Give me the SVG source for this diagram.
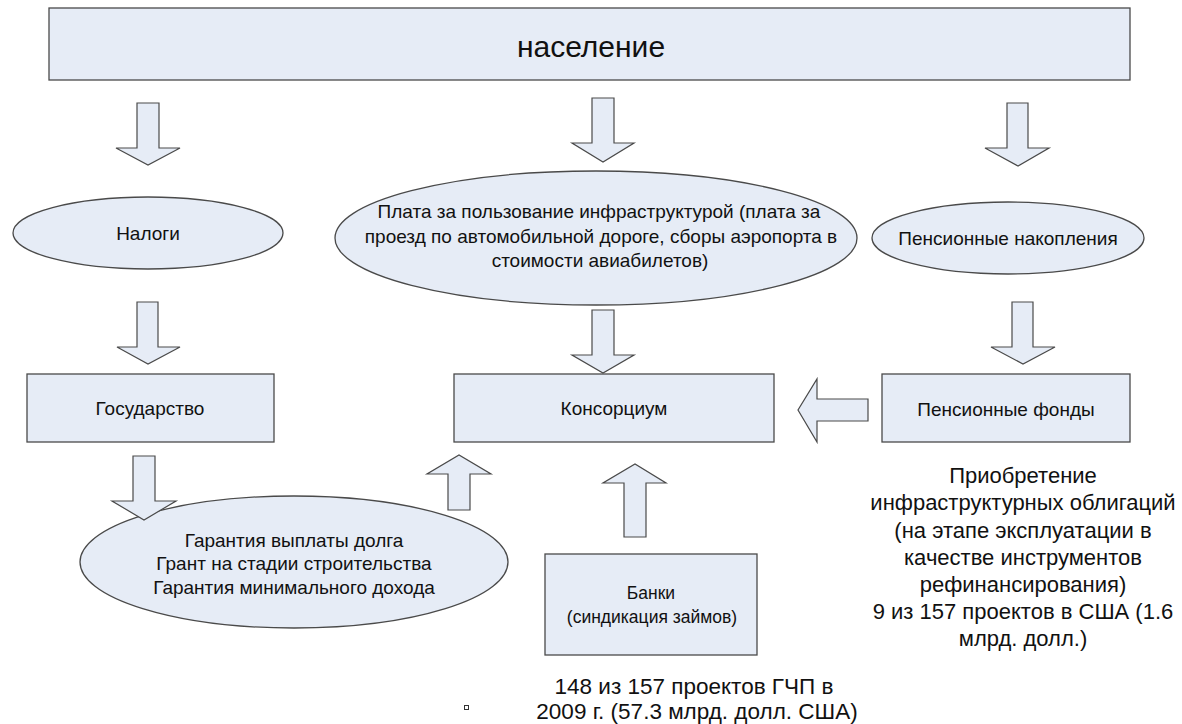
<svg xmlns="http://www.w3.org/2000/svg" width="1182" height="724" viewBox="0 0 1182 724">
<style>
.n{fill:#e6ecf6;stroke:#4a4a4a;stroke-width:1.3}
.a{fill:#e6ecf6;stroke:#4a4a4a;stroke-width:1.2;stroke-linejoin:miter}
text{font-family:"Liberation Sans",Arial,sans-serif;fill:#111;text-anchor:middle;dominant-baseline:central}
.s{font-size:19px}
.k{font-size:17.5px}
.m{font-size:22px}
.b{font-size:22.5px}
.t{font-size:30px}
</style>
<rect width="1182" height="724" fill="#fff"/>
<g id="naselenie"><rect class="n" x="49" y="8" width="1081" height="72"/><text class="t" x="591" y="46">население</text></g>
<g id="nalogi"><ellipse class="n" cx="148" cy="233" rx="135" ry="36"/><text class="s" x="148" y="233">Налоги</text></g>
<g id="plata"><ellipse class="n" cx="596" cy="238" rx="261" ry="67"/>
<text class="s" x="599" y="211">Плата за пользование инфраструктурой (плата за</text>
<text class="s" x="601" y="236">проезд по автомобильной дороге, сборы аэропорта в</text>
<text class="s" x="600" y="260">стоимости авиабилетов)</text></g>
<g id="nakopleniya"><ellipse class="n" cx="1008" cy="238" rx="136" ry="36"/><text class="s" x="1008" y="238">Пенсионные накопления</text></g>
<g id="gosudarstvo"><rect class="n" x="27" y="374" width="247" height="68"/><text class="s" x="150" y="408">Государство</text></g>
<g id="konsortsium"><rect class="n" x="454" y="374" width="320" height="68"/><text class="s" x="614" y="408">Консорциум</text></g>
<g id="fondy"><rect class="n" x="882" y="374" width="248" height="68"/><text class="s" x="1006" y="409">Пенсионные фонды</text></g>
<g id="garantii"><ellipse class="n" cx="294" cy="562" rx="214" ry="66"/>
<text class="s" x="294" y="540">Гарантия выплаты долга</text>
<text class="s" x="294" y="563">Грант на стадии строительства</text>
<text class="s" x="294" y="587">Гарантия минимального дохода</text></g>
<g id="banki"><rect class="n" x="545" y="554" width="212" height="101"/>
<text class="k" x="651" y="593">Банки</text>
<text class="k" x="652" y="617">(синдикация займов)</text></g>
<g id="connectors">
<polygon class="a" points="137,103 159,103 159,148 180,148 148,165 116,148 137,148"/>
<polygon class="a" points="592,98 614,98 614,143 634,143 603,162 572,143 592,143"/>
<polygon class="a" points="1007,103 1028,103 1028,148 1049,148 1018,166 985,148 1007,148"/>
<polygon class="a" points="137,302 158,302 158,347 180,347 148,364 117,347 137,347"/>
<polygon class="a" points="1012,302 1033,302 1033,347 1055,347 1023,364 991,347 1012,347"/>
<polygon class="a" points="592,310 614,310 614,355 634,355 603,373 572,355 592,355"/>
<polygon class="a" points="133,456 155,456 155,501 176,501 144,520 112,501 133,501"/>
<polygon class="a" points="448,510 470,510 470,474 491,474 459,455 427,474 448,474"/>
<polygon class="a" points="624,537 646,537 646,483 666,483 635,464 603,483 624,483"/>
<polygon class="a" points="868,399 868,421 817,421 817,442 798,410 817,379 817,399"/>
</g>
<g id="note-right">
<text class="m" x="1023" y="475">Приобретение</text>
<text class="m" x="1023" y="502">инфраструктурных облигаций</text>
<text class="m" x="1023" y="530">(на этапе эксплуатации в</text>
<text class="m" x="1023" y="557">качестве инструментов</text>
<text class="m" x="1023" y="584">рефинансирования)</text>
<text class="m" x="1023" y="611">9 из 157 проектов в США (1.6</text>
<text class="m" x="1023" y="638">млрд. долл.)</text>
</g>
<g id="note-bottom">
<rect x="464.5" y="705.5" width="4" height="4" fill="none" stroke="#333" stroke-width="1"/>
<text class="b" x="694" y="686">148 из 157 проектов ГЧП в</text>
<text class="b" x="697" y="711">2009 г. (57.3 млрд. долл. США)</text>
</g>
</svg>
